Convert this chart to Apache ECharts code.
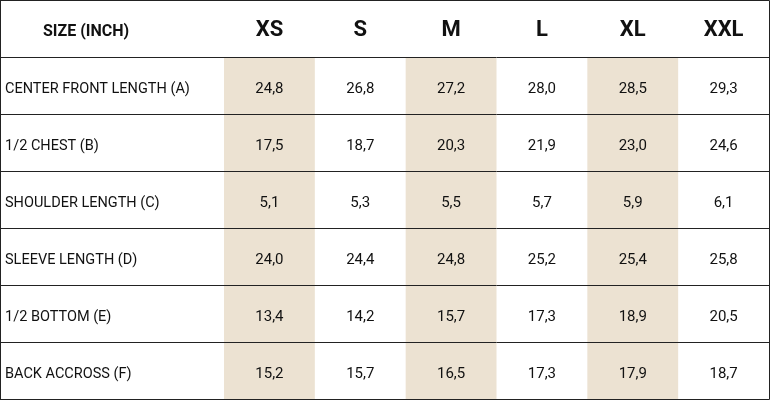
<!DOCTYPE html>
<html><head><meta charset="utf-8">
<script src="https://cdn.jsdelivr.net/npm/echarts@6/dist/echarts.min.js"></script>
<style>html,body{margin:0;padding:0;background:#fff}#c{width:770px;height:400px}</style>
</head><body><div id="c"></div>
<script>
const sizes = ['XS','S','M','L','XL','XXL'];
const measures = ['CENTER FRONT LENGTH (A)','1/2 CHEST (B)','SHOULDER LENGTH (C)','SLEEVE LENGTH (D)','1/2 BOTTOM (E)','BACK ACCROSS (F)'];
const cfl = ['24,8','26,8','27,2','28,0','28,5','29,3'];
const chest = ['17,5','18,7','20,3','21,9','23,0','24,6'];
const shoulder = ['5,1','5,3','5,5','5,7','5,9','6,1'];
const sleeve = ['24,0','24,4','24,8','25,2','25,4','25,8'];
const bottom = ['13,4','14,2','15,7','17,3','18,9','20,5'];
const back = ['15,2','15,7','16,5','17,3','17,9','18,7'];
const headerLabel = 'SIZE (INCH)';
const rows = [cfl, chest, shoulder, sleeve, bottom, back];
const rowCats = ['h'].concat(measures);

const cells = [];
sizes.forEach((s,i)=>cells.push([i,0,s]));
rows.forEach((r,ri)=>r.forEach((v,i)=>cells.push([i,ri+1,v])));
const labelCells = [[0,0,headerLabel]].concat(measures.map((m,i)=>[0,i+1,m]));

const chart = echarts.init(document.getElementById('c'));
const ySplit = {show:true,lineStyle:{color:'#222',width:1}};
chart.setOption({
  animation:false,
  graphic:[{type:'rect',shape:{x:0.5,y:0.5,width:769,height:399},style:{fill:null,stroke:'#222',lineWidth:1},z:10}],
  grid:[{left:0,top:0,width:224,height:399,show:false},
        {left:224,top:0,right:1,height:399,show:false}],
  xAxis:[{gridIndex:0,type:'category',data:['label'],show:false},
         {gridIndex:1,type:'category',data:sizes,show:false}],
  yAxis:[{gridIndex:0,type:'category',data:rowCats,inverse:true,axisLine:{show:false},axisTick:{show:false},axisLabel:{show:false},splitLine:ySplit},
         {gridIndex:1,type:'category',data:rowCats,inverse:true,axisLine:{show:false},axisTick:{show:false},axisLabel:{show:false},splitLine:ySplit}],
  series:[
    {type:'custom',xAxisIndex:1,yAxisIndex:1,data:cells,z:1,
     renderItem:(p,api)=>{
       const c=api.coord([api.value(0),api.value(1)]);
       const sz=api.size([1,1]);
       const col=api.value(0), row=api.value(1);
       const txt=cells[p.dataIndex][2];
       const children=[];
       if(row>0 && col%2===0){
         children.push({type:'rect',shape:{x:c[0]-sz[0]/2,y:c[1]-sz[1]/2+1,width:sz[0],height:sz[1]-1},style:{fill:'#ece2d2'},z2:0});
       }
       children.push({type:'text',x:c[0],y:c[1]+(row===0?2:4),style:{text:txt,fill:'#111',align:'center',verticalAlign:'middle',
         font:row===0?'bold 22px Roboto':'15px Roboto'},z2:2});
       return {type:'group',children};
     }},
    {type:'custom',xAxisIndex:0,yAxisIndex:0,data:labelCells,
     renderItem:(p,api)=>{
       const c=api.coord([0,api.value(1)]);
       const row=api.value(1);
       const txt=labelCells[p.dataIndex][2];
       if(row===0) return {type:'text',x:c[0]-26,y:c[1]+3,style:{text:txt,fill:'#111',align:'center',verticalAlign:'middle',font:'bold 16px Roboto'}};
       return {type:'text',x:5,y:c[1]+4,style:{text:txt,fill:'#111',align:'left',verticalAlign:'middle',font:'14.5px Roboto'}};
     }}
  ]
});
</script></body></html>
